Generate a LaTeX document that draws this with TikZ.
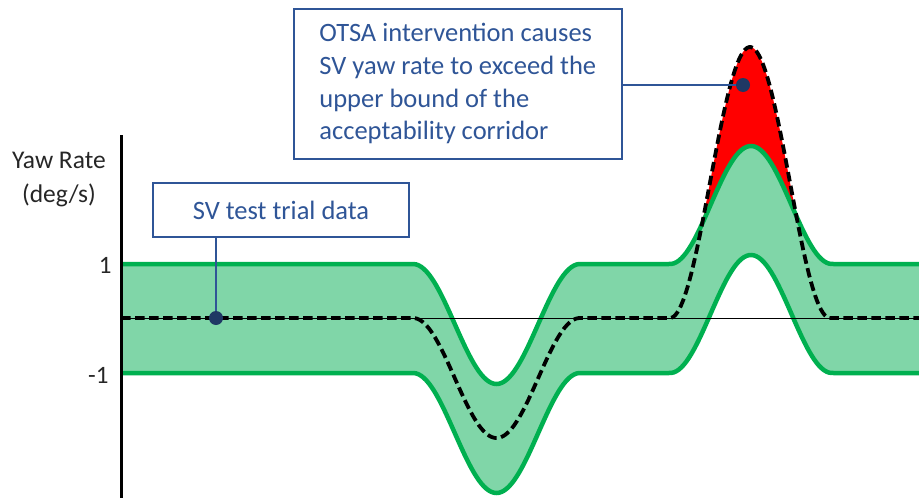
\documentclass[tikz,border=0pt]{standalone}
\usepackage{fontspec}
\setmainfont{Carlito}
\usetikzlibrary{positioning}
\definecolor{calloutblue}{RGB}{47,85,151}
\definecolor{dotblue}{RGB}{31,56,100}
\definecolor{bandgreen}{RGB}{0,176,80}
\definecolor{bandfill}{RGB}{128,214,168}

\begin{document}
\begin{tikzpicture}[x=1pt, y=-1pt,
  declare function={bell(\t)=(abs(\t)<1)*(1+cos(180*\t))/2;
    mid(\x)=318+120*bell((\x-496.5)/83.5)-118*bell((\x-751)/81);
    trial(\x)=318+120*bell((\x-496.5)/83.5)-271*bell((\x-750)/80);},
  bound/.style={bandgreen, line width=4.5pt},
  callout/.style={draw=calloutblue, line width=1.5pt, fill=white, text=calloutblue,
    font=\fontsize{26.5}{32.7}\selectfont},
  lead/.style={calloutblue, line width=1.5pt},
  dot/.style={circle, fill=dotblue, inner sep=0pt, minimum size=14pt},
  axislabel/.style={anchor=base, text=black!85, font=\fontsize{25.5}{30}\selectfont},
  ticklabel/.style={anchor=east, text=black!85, font=\fontsize{25}{30}\selectfont}]
\useasboundingbox (0,0) rectangle (919,498);

% acceptability corridor
\fill[bandfill] plot[domain=121:919, samples=320] (\x,{mid(\x)-54})
  -- plot[domain=919:121, samples=320] (\x,{mid(\x)+55}) -- cycle;

% part of the trial above the corridor
\begin{scope}
\clip plot[domain=121:919, samples=320] (\x,{mid(\x)-54}) -- (919,0) -- (121,0) -- cycle;
\fill[red] plot[domain=660:845, samples=160] (\x,{trial(\x)}) -- cycle;
\end{scope}

\draw[bound] plot[domain=121:919, samples=320] (\x,{mid(\x)-54});
\draw[bound] plot[domain=121:919, samples=320] (\x,{mid(\x)+55});

% zero line, trial data and axis
\coordinate (origin) at (121,318);
\coordinate (zeroend) at (919,318);
\draw[line width=1pt] (origin) -- (zeroend);
\draw[line width=3.8pt, dash pattern=on 9.5pt off 4.5pt]
  plot[domain=121:919, samples=400] (\x,{trial(\x)});
\draw[line width=3pt] (121,135) -- (121,498);

\node[axislabel] (yawlabel) at (59,168) {Yaw Rate};
\node[axislabel] (unitlabel) at (59,202) {(deg/s)};
\node[ticklabel] (one) at (115,265) {1};
\node[ticklabel] (minusone) at (112,375) {-1};

% callouts
\node[dot] (svdot) at (216,318) {};
\node[callout, minimum width=256pt, minimum height=54pt] (svbox) at (281,210) {SV test trial data};
\draw[lead] (svbox.south -| svdot) -- (svdot);

\node[dot] (peakdot) at (743,85) {};
\node[callout, align=left, minimum width=328pt, minimum height=150pt,
  anchor=north west] (otsabox) at (293,8)
  {OTSA intervention causes\\SV yaw rate to exceed the\\upper bound of the\\acceptability corridor};
\draw[lead] (otsabox.east |- peakdot) -- (peakdot);
\end{tikzpicture}
\end{document}
